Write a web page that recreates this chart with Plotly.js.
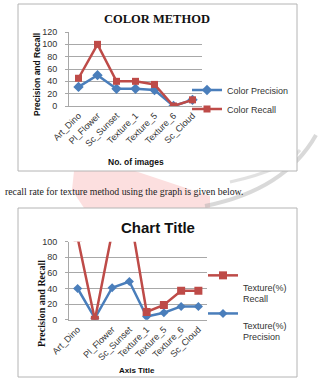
<!DOCTYPE html>
<html>
<head>
<meta charset="utf-8">
<script src="https://cdn.plot.ly/plotly-3.0.1.min.js"></script>
<style>
  html, body { margin: 0; padding: 0; background: #fff; }
  #page { width: 318px; height: 381px; }
</style>
</head>
<body>
<div id="page"></div>
<script>
// Colour-method results
const colorCategories = ['Art_Dino', 'Pl_Flower', 'Sc_Sunset', 'Texture_1', 'Texture_5', 'Texture_6', 'Sc_Cloud'];
const colorPrecision = [31, 50, 28, 28, 26, 0, 10];
const colorRecall = [45, 100, 40, 40, 35, 0, 10];

// Texture-method results (second category has no label)
const textureCategories = ['Art_Dino', '', 'Pl_Flower', 'Sc_Sunset', 'Texture_1', 'Texture_5', 'Texture_6', 'Sc_Cloud'];
const texturePrecision = [40, 2, 41, 49, 4, 9, 17, 17];
const textureRecall = [105, 0, 112, 140, 10, 19, 37, 37];

const colorTicks = [0, 20, 40, 60, 80, 100, 120];
const textureTicks = [0, 20, 40, 60, 80, 100];

const W = 318, H = 381;
const px = v => v / W;
const py = v => 1 - v / H;

const BLUE = '#4A7EBB';
const RED = '#BE4B48';
const SANS = 'Liberation Sans, Arial, sans-serif';
const SERIF = 'Liberation Serif, Times New Roman, serif';
const GRID = '#a8a8a8';

const idx = arr => arr.map((_, i) => i);

const traces = [
  {
    x: idx(colorCategories), y: colorPrecision, name: 'Color Precision',
    mode: 'lines+markers', xaxis: 'x', yaxis: 'y', legend: 'legend',
    line: { color: BLUE, width: 2.5 },
    marker: { symbol: 'diamond', size: 8, color: BLUE }
  },
  {
    x: idx(colorCategories), y: colorRecall, name: 'Color Recall',
    mode: 'lines+markers', xaxis: 'x', yaxis: 'y', legend: 'legend',
    line: { color: RED, width: 2.5 },
    marker: { symbol: 'square', size: 7, color: RED }
  },
  {
    x: idx(textureCategories), y: texturePrecision, name: ' <br>Texture(%)<br>Precision',
    mode: 'lines+markers', xaxis: 'x2', yaxis: 'y2', legend: 'legend2', legendrank: 2,
    line: { color: BLUE, width: 2.5 },
    marker: { symbol: 'diamond', size: 7, color: BLUE }
  },
  {
    x: idx(textureCategories), y: textureRecall, name: ' <br>Texture(%)<br>Recall',
    mode: 'lines+markers', xaxis: 'x2', yaxis: 'y2', legend: 'legend2', legendrank: 1,
    line: { color: RED, width: 2.5 },
    marker: { symbol: 'square', size: 8, color: RED }
  }
];

function xAxis(domain, cats, anchor) {
  return {
    domain: domain, anchor: anchor,
    range: [-0.5, cats.length - 0.5],
    tickmode: 'array', tickvals: idx(cats), ticktext: cats,
    tickangle: -45, ticks: '', showgrid: false, zeroline: false,
    showline: true, linecolor: GRID, linewidth: 1,
    tickfont: { family: SANS, size: 9, color: '#333' }, fixedrange: true
  };
}
function yAxis(domain, ticks, anchor) {
  return {
    domain: domain, anchor: anchor,
    range: [0, ticks[ticks.length - 1]],
    tickmode: 'array', tickvals: ticks,
    showgrid: true, gridcolor: GRID, gridwidth: 1, zeroline: false,
    showline: true, linecolor: GRID, linewidth: 1,
    ticks: 'outside', ticklen: 3, tickcolor: GRID, ticklabelstandoff: 6,
    tickfont: { family: SANS, size: 9, color: '#333' }, fixedrange: true
  };
}

// centred text placed at a pixel position on the page
function label(text, x, y, font, extra) {
  return Object.assign({
    text: text, x: px(x), y: py(y), xref: 'paper', yref: 'paper',
    xanchor: 'center', yanchor: 'middle', showarrow: false, font: font
  }, extra || {});
}

const layout = {
  width: W, height: H,
  margin: { l: 0, r: 0, t: 0, b: 0 },
  paper_bgcolor: '#fff', plot_bgcolor: 'rgba(0,0,0,0)',
  showlegend: true,
  xaxis: xAxis([px(69), px(202)], colorCategories, 'y'),
  yaxis: yAxis([py(106), py(32)], colorTicks, 'x'),
  xaxis2: xAxis([px(69), px(207)], textureCategories, 'y2'),
  yaxis2: yAxis([py(319.7), py(241.7)], textureTicks, 'x2'),
  legend: {
    x: px(187), xanchor: 'left', y: py(75.5), yanchor: 'top',
    bgcolor: 'rgba(0,0,0,0)', itemwidth: 30, tracegroupgap: 0,
    font: { family: SANS, size: 9, color: '#333' }
  },
  legend2: {
    x: px(203), xanchor: 'left', y: py(263), yanchor: 'top',
    bgcolor: 'rgba(0,0,0,0)', itemwidth: 30, tracegroupgap: 0, valign: 'top',
    font: { family: SANS, size: 9, color: '#333' }
  },
  shapes: [
    // faint watermark behind the page text
    { type: 'path', xref: 'paper', yref: 'paper', layer: 'below',
      path: `M ${px(74)} ${py(171)} L ${px(135)} ${py(171)} L ${px(210)} ${py(196)} L ${px(210)} ${py(208)} L ${px(84)} ${py(208)} L ${px(72)} ${py(190)} Z`,
      fillcolor: 'rgba(244,150,150,0.3)', line: { width: 0 } },
    { type: 'path', xref: 'paper', yref: 'paper', layer: 'below',
      path: `M ${px(205)} ${py(206)} Q ${px(285)} ${py(190)} ${px(316)} ${py(135)}`,
      line: { color: 'rgba(170,170,170,0.45)', width: 4 } },
    { type: 'path', xref: 'paper', yref: 'paper', layer: 'below',
      path: `M ${px(230)} ${py(182)} Q ${px(285)} ${py(170)} ${px(300)} ${py(150)}`,
      line: { color: 'rgba(170,170,170,0.35)', width: 3 } },
    // chart frames
    { type: 'rect', xref: 'paper', yref: 'paper', layer: 'below',
      x0: px(18), x1: px(297), y0: py(171), y1: py(4),
      fillcolor: '#fff', line: { color: '#b4b4b4', width: 1 } },
    { type: 'rect', xref: 'paper', yref: 'paper', layer: 'below',
      x0: px(18), x1: px(297), y0: py(377), y1: py(208),
      fillcolor: '#fff', line: { color: '#b4b4b4', width: 1 } }
  ],
  annotations: [
    label('<b>COLOR METHOD</b>', 157, 19, { family: SERIF, size: 12.5, color: '#111' }),
    label('<b>Precision and Recall</b>', 37, 75, { family: SANS, size: 8.5, color: '#111' }, { textangle: -90 }),
    label('<b>No. of images</b>', 136, 162, { family: SANS, size: 8.5, color: '#111' }),
    label('recall rate for texture method using the graph is given below.', 3, 191,
      { family: SERIF, size: 9.8, color: '#222' }, { xanchor: 'left' }),
    label('<b>Chart Title</b>', 158, 227, { family: SANS, size: 15, color: '#111' }),
    label('<b>Precision and Recall</b>', 41, 304, { family: SERIF, size: 10, color: '#111' }, { textangle: -90 }),
    label('<b>Axis Title</b>', 137, 370, { family: SANS, size: 8, color: '#111' })
  ]
};

Plotly.newPlot('page', traces, layout, { staticPlot: true, displayModeBar: false });
</script>
</body>
</html>
